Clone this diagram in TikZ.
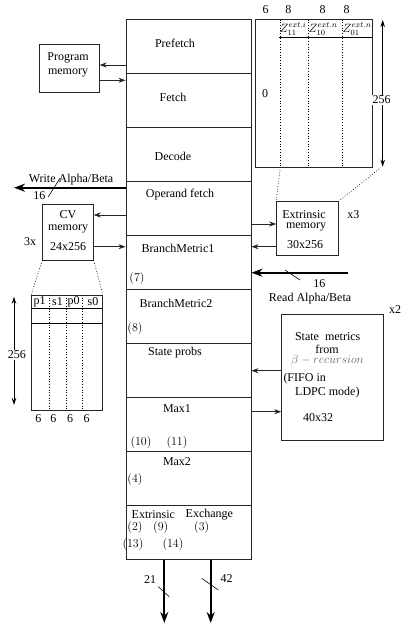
\documentclass[tikz,border=0pt]{standalone}
\usepackage{fontspec}
\setmainfont{Liberation Serif}
\usetikzlibrary{arrows.meta,calc}
\begin{document}
\begin{tikzpicture}[x=1pt,y=-1pt,
  box/.style={draw=black!85,line width=0.9pt,inner sep=0pt},
  lbl/.style={inner sep=0pt,font=\fontsize{12}{13}\selectfont},
  arr/.style={-{Stealth[length=7pt,width=5pt]},line width=0.7pt,draw=black!85},
  thk/.style={-{Stealth[length=11pt,width=8pt]},line width=2.2pt},
  dots/.style={dotted,line width=0.7pt},
  sl/.style={line width=0.6pt}]
\useasboundingbox (0,0) rectangle (401,627);

% main pipeline column
\foreach \i in {1,...,10}
  \node[box,minimum width=125,minimum height=54] (b\i) at (188.5,{19.5+54*(\i-0.5)}) {};

\node[lbl] (tpre) at (175,43) {Prefetch};
\node[lbl] (tfet) at (173,97) {Fetch};
\node[lbl] (tdec) at (173,156) {Decode};
\node[lbl] (topf) at (180,195) {Operand fetch};
\node[lbl] (tbm1) at (178,248) {BranchMetric1};
\node[lbl] (t7) at (137,278) {$(7)$};
\node[lbl] (tbm2) at (176,303) {BranchMetric2};
\node[lbl] (t8) at (135,328) {$(8)$};
\node[lbl] (tsp) at (175,353) {State probs};
\node[lbl] (tmx1) at (177,409) {Max1};
\node[lbl] (t10) at (141,442) {$(10)$};
\node[lbl] (t11) at (177,442) {$(11)$};
\node[lbl] (tmx2) at (177,462) {Max2};
\node[lbl] (t4) at (135,479) {$(4)$};
\node[lbl,anchor=west] (text) at (131.5,515) {Extrinsic};
\node[lbl,anchor=west] (texc) at (185.5,515) {Exchange};
\node[lbl] (t2) at (135,527) {$(2)$};
\node[lbl] (t9) at (160.7,527) {$(9)$};
\node[lbl] (t3) at (201.7,527) {$(3)$};
\node[lbl] (t13) at (133,544) {$(13)$};
\node[lbl] (t14) at (173,544) {$(14)$};

% program memory
\node[box,minimum width=60,minimum height=48] (pm) at (69.2,68.2) {};
\node[lbl] (tpm1) at (68,57.5) {Program};
\node[lbl] (tpm2) at (68,72.5) {memory};
\draw[arr] (b1.west |- 0,65) -- (pm.east |- 0,65);
\draw[arr] (pm.east |- 0,80.3) -- (b2.west |- 0,80.3);

% write alpha/beta
\coordinate (wab) at (14,187.7);
\draw[thk] (b4.west |- wab) -- (wab);
\node[lbl] (twab) at (71,179.5) {Write Alpha/Beta};
\node[lbl] (t16a) at (39.3,195.5) {16};
\draw[sl] (48.3,196.7) -- (60,178.3);

% CV memory
\node[box,minimum width=50.6,minimum height=56] (cv) at (68,232) {};
\node[lbl] (tcv1) at (68,215) {CV};
\node[lbl] (tcv2) at (68,229.3) {memory};
\node[lbl] (tcv3) at (68,246.7) {24x256};
\node[lbl] (t3x) at (30,241.7) {3x};
\draw[arr] (b4.west |- 0,215) -- (cv.east |- 0,215);
\draw[arr] (cv.east |- 0,246.7) -- (b5.west |- 0,246.7);

% CV table
\node[box,minimum width=70.6,minimum height=115] (cvt) at (67,352.5) {};
\draw[line width=0.9pt] (cvt.west |- 0,308.3) -- (cvt.east |- 0,308.3);
\draw[line width=0.9pt] (cvt.west |- 0,323.3) -- (cvt.east |- 0,323.3);
\foreach \xx in {49,66,82.3}
  \draw[dots] (\xx,295) -- (\xx,410);
\draw[dots] (cv.south west) -- (cvt.north west);
\draw[dots] (cv.south east) -- (cvt.north east);
\node[lbl] (tp1) at (39.5,301.5) {p1};
\node[lbl] (ts1) at (57.5,301.5) {s1};
\node[lbl] (tp0) at (73.5,301.5) {p0};
\node[lbl] (ts0) at (93,301.5) {s0};
\node[lbl] (c6a) at (38.3,418.5) {6};
\node[lbl] (c6b) at (53.3,418.5) {6};
\node[lbl] (c6c) at (70,418.5) {6};
\node[lbl] (c6d) at (86.7,418.5) {6};
\coordinate (la1) at (14,296.7);
\coordinate (la2) at (14,405);
\draw[{Stealth[length=7pt,width=4.5pt]}-{Stealth[length=7pt,width=4.5pt]},line width=0.8pt] (la1) -- (la2);
\node[lbl,fill=white,inner sep=1pt] (l256) at (17,355) {256};

% Z table
\node[box,minimum width=117,minimum height=148.4] (zt) at (314.2,93.5) {};
\draw[line width=0.9pt] (279,37.7) -- (zt.east |- 0,37.7);
\foreach \xx in {280,308.7,342.7}
  \draw[dots] (\xx,19.5) -- (\xx,167.7);
\node[lbl,anchor=west] (z11) at (279.5,29) {$Z_{11}^{\rlap{$\scriptstyle ext.i$}}$};
\node[lbl,anchor=west] (z10) at (308.5,29) {$Z_{10}^{\rlap{$\scriptstyle ext.n$}}$};
\node[lbl,anchor=west] (z01) at (342.5,29) {$Z_{01}^{\rlap{$\scriptstyle ext.n$}}$};
\node[lbl] (h6) at (265.7,10) {6};
\node[lbl] (h8a) at (288.3,10) {8};
\node[lbl] (h8b) at (322.7,10) {8};
\node[lbl] (h8c) at (346.7,10) {8};
\node[lbl] (t0) at (265,93.3) {0};
\coordinate (ra1) at (382.7,20);
\coordinate (ra2) at (382.7,166.7);
\draw[{Stealth[length=7pt,width=4.5pt]}-{Stealth[length=7pt,width=4.5pt]},line width=0.8pt] (ra1) -- (ra2);
\node[lbl,fill=white,inner sep=1pt] (r256) at (381.7,100) {256};

% extrinsic memory
\node[box,minimum width=61.6,minimum height=53.3] (ext) at (307.5,228.3) {};
\node[lbl] (te1) at (304,215) {Extrinsic};
\node[lbl] (te2) at (306,227.3) {memory};
\node[lbl] (te3) at (305,245) {30x256};
\node[lbl] (tx3) at (353.3,215) {x3};
\draw[dots] (280,170) -- (ext.north west);
\draw[dots] (379,169) -- (ext.north east);
\draw[arr] (b4.east |- 0,224) -- (ext.west |- 0,224);
\draw[arr] (ext.west |- 0,246.7) -- (b5.east |- 0,246.7);

% read alpha/beta
\coordinate (rab) at (348.3,272.7);
\draw[thk] (rab) -- (b5.east |- rab);
\draw[sl] (285,270) -- (300,280);
\node[lbl] (t16b) at (319.3,284) {16};
\node[lbl] (trab) at (310,298.3) {Read Alpha/Beta};

% state metrics
\node[box,minimum width=101.6,minimum height=126.4] (sm) at (332.5,377.5) {};
\node[lbl] (tx2) at (395,310) {x2};
\node[lbl] (ts1m) at (327.7,336.7) {State\ \ metrics};
\node[lbl] (ts2m) at (327,349) {from};
\node[lbl,text=black!60] (ts3m) at (327.5,360.5) {$\beta-recursion$};
\node[lbl,anchor=west] (ts4m) at (283.3,378.3) {(FIFO in};
\node[lbl,anchor=west] (ts5m) at (295,392.7) {LDPC mode)};
\node[lbl] (ts6m) at (318,417.3) {40x32};
\draw[arr] (sm.west |- 0,370.7) -- (b7.east |- 0,370.7);
\draw[arr] (b8.east |- 0,411.7) -- (sm.west |- 0,411.7);

% outputs
\coordinate (o1) at (164.3,623);
\coordinate (o2) at (210.7,623);
\draw[thk] (b10.south -| o1) -- (o1);
\draw[thk] (b10.south -| o2) -- (o2);
\draw[sl] (158.3,586.7) -- (169.3,596.7);
\draw[sl] (201.7,578.3) -- (218.3,590);
\node[lbl] (t21) at (150,579.3) {21};
\node[lbl] (t42) at (226.7,578.3) {42};
\end{tikzpicture}
\end{document}
